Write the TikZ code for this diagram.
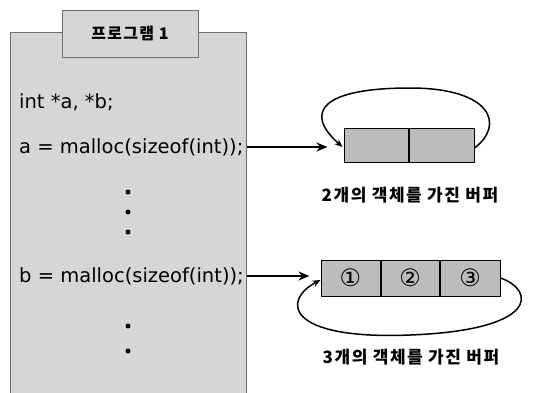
\documentclass[tikz,border=0pt]{standalone}
\usepackage{fontspec}
\setmainfont{DejaVu Sans}
\newfontfamily\codefont{DejaVu Sans}
\newfontfamily\kofont[LetterSpace=9]{Noto Sans CJK KR}
\newfontfamily\tabfont[LetterSpace=8]{Noto Sans CJK KR}
\newfontfamily\symfont{DejaVu Sans}
\usetikzlibrary{arrows.meta}

\definecolor{panelgray}{RGB}{214,214,214}
\definecolor{cellgray}{RGB}{188,188,188}
\definecolor{edgegray}{RGB}{110,110,110}

\tikzset{
  panelbox/.style={draw=edgegray, line width=0.8pt, fill=panelgray, inner sep=0pt,
    minimum width=236pt, minimum height=380pt, anchor=north west},
  tabbox/.style={draw=edgegray, line width=0.9pt, fill=panelgray, inner sep=0pt,
    minimum width=136pt, minimum height=47pt, font=\tabfont\bfseries\fontsize{16}{18}\selectfont},
  codeline/.style={anchor=west, inner sep=0pt, font=\codefont\fontsize{19.5}{22}\selectfont},
  cell/.style={draw=black, line width=1pt, fill=cellgray, inner sep=0pt,
    font=\symfont\fontsize{24}{26}\selectfont},
  caption/.style={inner sep=0pt, font=\kofont\bfseries\fontsize{17}{20}\selectfont},
  dotmark/.style={circle, fill=black, inner sep=0pt, minimum size=5pt},
  mainarrow/.style={line width=2pt, -{Stealth[length=11pt,width=9pt]}},
  looparrow/.style={line width=1.5pt, -{Stealth[length=8pt,width=6.5pt]}}
}

\begin{document}
\begin{tikzpicture}[x=1pt, y=-1pt]
\useasboundingbox (0,0) rectangle (534,392);

% program panel (open towards the bottom edge) and its title tab
\node[panelbox] (panel) at (10,32) {};
\node[tabbox] (tab) at (130,33.5) {프로그램 1};

% code lines
\node[codeline] (decl)  at (19,102) {int *a, *b;};
\node[codeline] (codeA) at (19,147) {a = malloc(sizeof(int));};
\node[codeline] (codeB) at (19,276) {b = malloc(sizeof(int));};

% ellipsis dots
\node[dotmark] (d1) at (128,192) {};
\node[dotmark] (d2) at (128,212) {};
\node[dotmark] (d3) at (128,232) {};
\node[dotmark] (d4) at (128,326) {};
\node[dotmark] (d5) at (128,351) {};

% buffer with two objects
\node[cell, minimum width=64pt, minimum height=34pt] (a1) at (376,145) {};
\node[cell, minimum width=65pt, minimum height=34pt, anchor=west] (a2) at (a1.east) {};
\node[caption] (capA) at (410,195) {2개의 객체를 가진 버퍼};

% buffer with three objects
\node[cell, minimum width=59pt, minimum height=36pt] (b1) at (350.5,278) {①};
\node[cell, minimum width=58pt, minimum height=36pt, anchor=west] (b2) at (b1.east) {②};
\node[cell, minimum width=60pt, minimum height=36pt, anchor=west] (b3) at (b2.east) {③};
\node[caption] (capB) at (411,357) {3개의 객체를 가진 버퍼};

% pointers from the code to the buffers
\draw[mainarrow, shorten >=16pt] (codeA.east -| panel.east) -- (codeA.east -| a1.west);
\draw[mainarrow, shorten >=11pt] (codeB.east -| panel.east) -- (codeB.east -| b1.west);

% wrap-around of each circular buffer
\coordinate (aEnd) at ([yshift=-3pt]a2.east);
\coordinate (aStart) at ([xshift=-1pt,yshift=-2pt]a1.west);
\draw[looparrow] (aEnd) .. controls (505,125) and (492,88) .. (410,88)
  .. controls (322,88) and (303,112) .. (aStart);

\coordinate (bEnd) at (b3.east);
\coordinate (bStart) at ([yshift=-2pt]b1.west);
\draw[looparrow] (bEnd) .. controls (535,290) and (540,330) .. (410,335)
  .. controls (285,340) and (282,300) .. (bStart);
\end{tikzpicture}
\end{document}
